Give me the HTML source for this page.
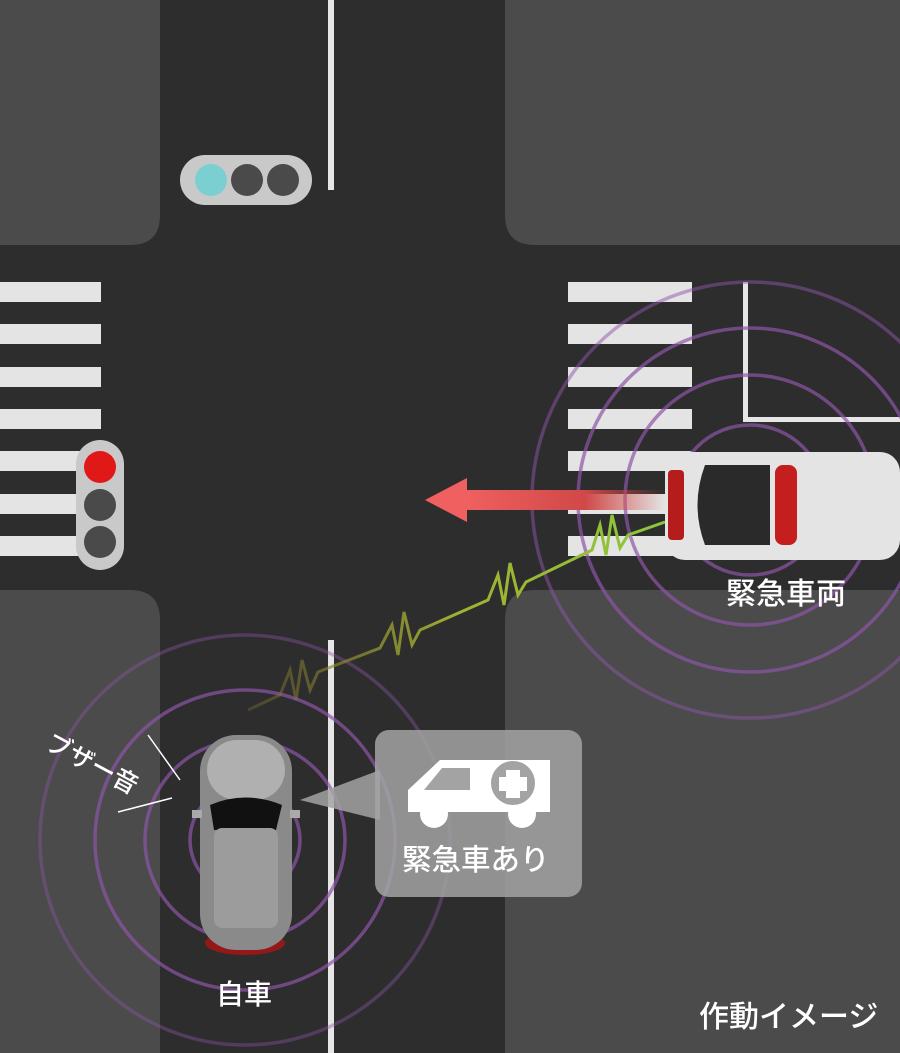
<!DOCTYPE html>
<html><head><meta charset="utf-8"><style>
html,body{margin:0;padding:0;background:#2c2c2c;}
body{width:900px;height:1053px;overflow:hidden;position:relative;font-family:"Liberation Sans","Noto Sans CJK JP",sans-serif;}
</style></head><body>
<svg width="900" height="1053" viewBox="0 0 900 1053" xmlns="http://www.w3.org/2000/svg" style="position:absolute;left:0;top:0">
<rect width="900" height="1053" fill="#2d2d2d"/>
<path d="M0 0H160V215Q160 245 130 245H0Z" fill="#4b4b4b"/>
<path d="M505 0H900V245H535Q505 245 505 215Z" fill="#4b4b4b"/>
<path d="M0 590H130Q160 590 160 620V1053H0Z" fill="#4b4b4b"/>
<path d="M535 590H900V1053H505V620Q505 590 535 590Z" fill="#4b4b4b"/>
<rect x="328" y="0" width="6" height="190" fill="#e6e6e6"/>
<rect x="328" y="640" width="6" height="413" fill="#e6e6e6"/>
<rect x="743" y="282" width="5" height="140" fill="#e6e6e6"/>
<rect x="743" y="417" width="157" height="5" fill="#e6e6e6"/>
<g fill="#e4e4e4">
<rect x="0" y="282" width="101" height="20"/><rect x="0" y="324" width="101" height="20"/><rect x="0" y="367" width="101" height="20"/><rect x="0" y="409" width="101" height="20"/><rect x="0" y="451" width="101" height="20"/><rect x="0" y="494" width="101" height="20"/><rect x="0" y="536" width="101" height="20"/>
<rect x="568" y="282" width="124" height="20"/><rect x="568" y="324" width="124" height="20"/><rect x="568" y="367" width="124" height="20"/><rect x="568" y="409" width="124" height="20"/><rect x="568" y="451" width="124" height="20"/><rect x="568" y="494" width="124" height="20"/><rect x="568" y="536" width="124" height="20"/>
</g>
<rect x="180" y="155" width="132" height="50" rx="25" fill="#c9c9c9"/>
<circle cx="211" cy="180" r="16" fill="#7ccfd0"/><circle cx="247" cy="180" r="16" fill="#4a4a4a"/><circle cx="283" cy="180" r="16" fill="#4a4a4a"/>
<rect x="76" y="440" width="48" height="130" rx="24" fill="#c9c9c9"/>
<circle cx="100" cy="467" r="16" fill="#e01818"/><circle cx="100" cy="505" r="16" fill="#4a4a4a"/><circle cx="100" cy="542" r="16" fill="#4a4a4a"/>
<g fill="none" stroke="#8d55a8" stroke-opacity="0.7" stroke-width="3.5">
<circle cx="245" cy="840" r="55"/><circle cx="245" cy="840" r="100"/><circle cx="245" cy="840" r="150"/><circle cx="245" cy="840" r="205" stroke-opacity="0.4"/>
<circle cx="750" cy="500" r="75"/><circle cx="750" cy="500" r="125"/><circle cx="750" cy="500" r="172"/><circle cx="750" cy="500" r="218" stroke-opacity="0.5"/>
</g>
<defs><linearGradient id="ag" x1="0" x2="1"><stop offset="0" stop-color="#f06060"/><stop offset="0.6" stop-color="#d04848"/><stop offset="1" stop-color="#d04848" stop-opacity="0"/></linearGradient>
<linearGradient id="zg" x1="0" x2="1"><stop offset="0" stop-color="#7a6a30" stop-opacity="0.4"/><stop offset="0.5" stop-color="#a0b030"/><stop offset="1" stop-color="#8cc83a"/></linearGradient></defs>
<rect x="465" y="490" width="200" height="20" fill="url(#ag)"/>
<polygon points="425,500 467,478 467,522" fill="#f06060"/>
<polyline fill="none" stroke="url(#zg)" stroke-width="3" points="248,710 280,695 290,670 296,700 302,660 310,690 318,672 380,648 392,625 398,655 404,612 412,645 420,630 488,600 498,575 504,605 510,563 518,595 526,582 592,550 600,525 606,555 612,515 620,548 628,535 665,522"/>
<ellipse cx="245" cy="943" rx="40" ry="12" fill="#c01010" opacity="0.7"/>
<rect x="200" y="735" width="92" height="215" rx="36" fill="#8a8a8a"/>
<rect x="207" y="740" width="78" height="60" rx="30" fill="#b0b0b0"/>
<path d="M210 805Q245 790 282 805L276 830H214Z" fill="#111"/>
<rect x="214" y="828" width="64" height="100" rx="8" fill="#9c9c9c"/>
<rect x="192" y="810" width="10" height="8" fill="#aaa"/><rect x="290" y="810" width="10" height="8" fill="#aaa"/>
<rect x="665" y="452" width="235" height="108" rx="20" fill="#e4e4e4"/>
<rect x="668" y="470" width="16" height="70" rx="4" fill="#b51c1c"/>
<path d="M705 465H770V545H705Q690 505 705 465Z" fill="#2a2a2a"/>
<rect x="775" y="465" width="22" height="80" rx="8" fill="#c41e1e"/>
<path d="M300 800L380 770V820Z" fill="#a3a3a3" fill-opacity="0.85"/>
<rect x="375" y="730" width="207" height="167" rx="14" fill="#a3a3a3" fill-opacity="0.85"/>
<path d="M408 808L408 790L440 760H550V812H408Z" fill="#fff"/>
<path d="M442 768H470V790H424Z" fill="#a3a3a3"/>
<circle cx="434" cy="814" r="14" fill="#fff"/><circle cx="522" cy="814" r="14" fill="#fff"/>
<circle cx="513" cy="783" r="22" fill="#a3a3a3"/>
<rect x="506" y="770" width="14" height="28" fill="#fff"/><rect x="499" y="777" width="28" height="14" fill="#fff"/>
<line x1="148" y1="735" x2="180" y2="780" stroke="#fff" stroke-width="1.5"/>
<line x1="118" y1="812" x2="172" y2="798" stroke="#fff" stroke-width="1.5"/>
<g fill="#fff" font-family="Liberation Sans, Noto Sans CJK JP, sans-serif" font-weight="500">
<text x="402" y="870" font-size="29.5">緊急車あり</text>
<text x="726" y="604" font-size="30">緊急車両</text>
<text x="216" y="1004" font-size="28">自車</text>
<text x="699" y="1027" font-size="30">作動イメージ</text>
<text x="44" y="748" font-size="25" transform="rotate(28 44 748)">ブザー音</text>
</g>
</svg>
</body></html>
